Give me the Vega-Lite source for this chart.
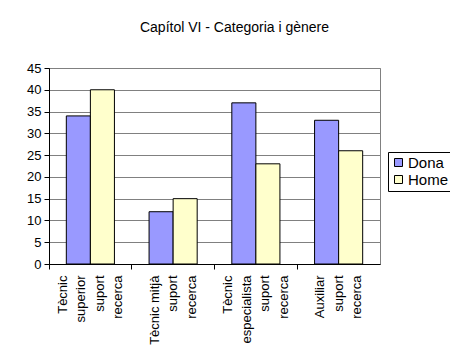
{
  "$schema": "https://vega.github.io/schema/vega-lite/v6.json",
  "width": 331,
  "height": 196,
  "autosize": "none",
  "padding": {"left": 49, "top": 68, "right": 70, "bottom": 99},
  "background": "white",
  "title": {
    "text": "Capítol VI - Categoria i gènere",
    "font": "Liberation Sans",
    "fontSize": 14,
    "fontWeight": "normal",
    "color": "black",
    "anchor": "middle",
    "dx": 20,
    "offset": 27
  },
  "data": {
    "values": [
      {"categoria": "Tècnic|superior|suport|recerca", "genere": "Dona", "valor": 34},
      {"categoria": "Tècnic|superior|suport|recerca", "genere": "Home", "valor": 40},
      {"categoria": "Tècnic mitjà|suport|recerca", "genere": "Dona", "valor": 12},
      {"categoria": "Tècnic mitjà|suport|recerca", "genere": "Home", "valor": 15},
      {"categoria": "Tècnic|especialista|suport|recerca", "genere": "Dona", "valor": 37},
      {"categoria": "Tècnic|especialista|suport|recerca", "genere": "Home", "valor": 23},
      {"categoria": "Auxiliar|suport|recerca", "genere": "Dona", "valor": 33},
      {"categoria": "Auxiliar|suport|recerca", "genere": "Home", "valor": 26}
    ]
  },
  "mark": {"type": "bar", "stroke": "black", "strokeWidth": 1},
  "encoding": {
    "x": {
      "field": "categoria",
      "type": "nominal",
      "sort": null,
      "title": null,
      "scale": {"paddingInner": 0, "paddingOuter": 0},
      "axis": {
        "labelExpr": "split(datum.value, '|')",
        "labelAngle": -90,
        "labelAlign": "right",
        "labelBaseline": "middle",
        "labelLineHeight": 18.5,
        "labelOffset": {
          "condition": {"test": "length(split(datum.value, '|')) == 4", "value": -27.75},
          "value": -18.5
        },
        "labelFont": "Liberation Sans",
        "labelFontSize": 13,
        "labelColor": "black",
        "labelPadding": 6,
        "bandPosition": 0,
        "tickColor": "black",
        "tickSize": 5,
        "domainColor": "black",
        "grid": false
      }
    },
    "xOffset": {
      "field": "genere",
      "type": "nominal",
      "scale": {"paddingInner": 0, "paddingOuter": 0.72}
    },
    "y": {
      "field": "valor",
      "type": "quantitative",
      "title": null,
      "scale": {"domain": [0, 45]},
      "axis": {
        "values": [0, 5, 10, 15, 20, 25, 30, 35, 40, 45],
        "labelFont": "Liberation Sans",
        "labelFontSize": 13,
        "labelColor": "black",
        "labelPadding": 3,
        "tickColor": "black",
        "tickSize": 5,
        "domainColor": "black",
        "gridColor": "#808080",
        "gridOpacity": 1
      }
    },
    "color": {
      "field": "genere",
      "type": "nominal",
      "title": null,
      "scale": {"domain": ["Dona", "Home"], "range": ["#9999FF", "#FFFFCC"]},
      "legend": {
        "orient": "none",
        "legendX": 339,
        "legendY": 84,
        "symbolType": "square",
        "symbolSize": 64,
        "symbolStrokeColor": "black",
        "symbolStrokeWidth": 1,
        "symbolOpacity": 1,
        "labelFont": "Liberation Sans",
        "labelFontSize": 15,
        "labelColor": "black",
        "labelOffset": 2,
        "rowPadding": 1,
        "strokeColor": "black",
        "padding": 3,
        "fillColor": "white"
      }
    }
  },
  "config": {
    "view": {"stroke": "#808080", "strokeWidth": 1},
    "axis": {"domainWidth": 1, "tickWidth": 1}
  }
}
